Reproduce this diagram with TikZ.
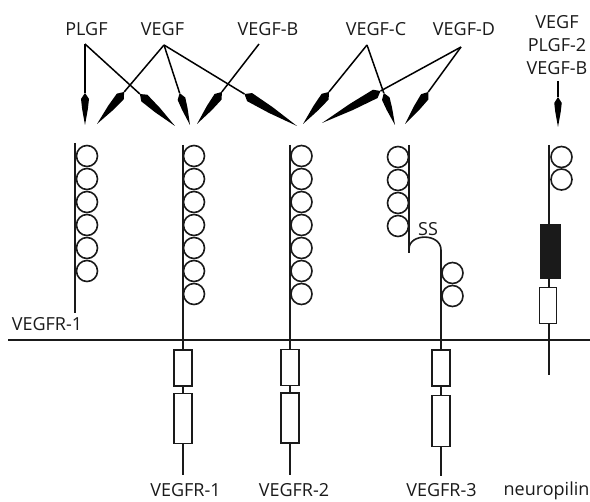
\documentclass[tikz,border=0pt]{standalone}
\usepackage{fontspec}
\setmainfont{Open Sans}
\usetikzlibrary{calc}
\definecolor{ink}{HTML}{1A1A1A}
\tikzset{
  lbl/.style={font=\fontsize{18}{23}\selectfont, inner sep=0pt, anchor=base, text=ink},
  dom/.style={circle, draw=ink, line width=1.6pt, minimum size=21pt, inner sep=0pt},
  tmbox/.style={rectangle, draw=ink, fill=white, line width=1.6pt, minimum width=18pt, inner sep=0pt},
  kinase/.style={rectangle, draw=ink, fill=ink, line width=1.6pt, inner sep=0pt},
  chain/.style={draw=ink, line width=1.6pt},
  membrane/.style={draw=ink, line width=2pt},
  lig/.style={draw=black, line width=1.5pt},
}
% ligand arrow: line from #1 to #2 with a long spear-shaped head of length #3 and width #4
\newcommand\ligarrow[4]{%
  \draw[lig] (#1) -- ($(#2)!#3!(#1)$);
  \fill[black] (#2)
    -- ($($(#2)!0.5*#3!(#1)$)!0.36*#4!90:(#2)$)
    -- ($($(#2)!#3-6pt!(#1)$)!#4/2!90:(#2)$)
    -- ($(#2)!#3!(#1)$)
    -- ($($(#2)!#3-6pt!(#1)$)!#4/2!-90:(#2)$)
    -- ($($(#2)!0.5*#3!(#1)$)!0.36*#4!-90:(#2)$)
    -- cycle;
}
\begin{document}
\begin{tikzpicture}[x=1pt, y=-1pt]
\fill[white] (0,0) rectangle (590,502);
\useasboundingbox (0,0) rectangle (590,502);

% ---- ligand labels ----
\node[lbl] (plgf)  at (86.5,36) {PLGF};
\node[lbl] (vegf)  at (162.5,36) {VEGF};
\node[lbl] (vegfb) at (268,36) {VEGF-B};
\node[lbl] (vegfc) at (376,35.5) {VEGF-C};
\node[lbl] (vegfd) at (464,35.5) {VEGF-D};
\node[lbl] (stk1) at (557,28.5) {VEGF};
\node[lbl] (stk2) at (557,51.5) {PLGF-2};
\node[lbl] (stk3) at (557,75) {VEGF-B};

% ---- ligand origins and binding sites ----
\coordinate (plgf-o)  at (85,44);
\coordinate (vegf-o)  at (164,45);
\coordinate (vegfb-o) at (259,44);
\coordinate (vegfc-o) at (367,45);
\coordinate (vegfd-o) at (461,47);
\coordinate (stk-o)   at (558,81);

\coordinate (s1a) at (85,125);
\coordinate (s1b) at (97,124);
\coordinate (r1a) at (175,126);
\coordinate (r1b) at (190,125);
\coordinate (r1c) at (197,124);
\coordinate (r2a) at (297,126);
\coordinate (r2b) at (303,124);
\coordinate (r2c) at (322,123);
\coordinate (r3a) at (395,125);
\coordinate (r3b) at (405,124);
\coordinate (npa) at (558,127);

% ---- binding arrows ----
\ligarrow{plgf-o}{s1a}{32pt}{8pt}
\ligarrow{plgf-o}{r1a}{47.5pt}{9pt}
\ligarrow{vegf-o}{s1b}{42pt}{9pt}
\ligarrow{vegf-o}{r1b}{33.6pt}{8pt}
\ligarrow{vegf-o}{r2a}{61.5pt}{9.5pt}
\ligarrow{vegfb-o}{r1c}{40.5pt}{9pt}
\ligarrow{vegfc-o}{r2b}{41.2pt}{9pt}
\ligarrow{vegfc-o}{r3a}{33.9pt}{8pt}
\ligarrow{vegfd-o}{r2c}{66.7pt}{9.5pt}
\ligarrow{vegfd-o}{r3b}{39.6pt}{9pt}
\ligarrow{stk-o}{npa}{30pt}{7.5pt}

% ---- cell membrane ----
\coordinate (mem-l) at (8,340.5);
\coordinate (mem-r) at (590,340.5);
\draw[membrane] (mem-l) -- (mem-r);
\node[lbl] (svegfr1) at (47,331) {VEGFR-1};

% ---- soluble VEGFR-1 ----
\coordinate (sv-top) at (75,143);
\coordinate (sv-bot) at (75,313);
\draw[chain] (sv-top) -- (sv-bot);
\foreach \k in {0,...,5} \node[dom] (sv-d\k) at (87,156+23*\k) {};

% ---- VEGFR-1 ----
\coordinate (v1-top) at (183,145);
\coordinate (v1-bot) at (183,475);
\draw[chain] (v1-top) -- (v1-bot);
\foreach \k in {0,...,6} \node[dom] (v1-d\k) at (194,156+23*\k) {};
\node[tmbox, minimum height=36pt] (v1-b1) at (183,368) {};
\node[tmbox, minimum height=50pt] (v1-b2) at (183,418.5) {};
\node[lbl] (v1-lbl) at (185.5,496.5) {VEGFR-1};

% ---- VEGFR-2 ----
\coordinate (v2-top) at (290,145);
\coordinate (v2-bot) at (290,475);
\draw[chain] (v2-top) -- (v2-bot);
\foreach \k in {0,...,6} \node[dom] (v2-d\k) at (301.5,156+23*\k) {};
\node[tmbox, minimum height=36pt] (v2-b1) at (290,367.5) {};
\node[tmbox, minimum height=50pt] (v2-b2) at (290,418) {};
\node[lbl] (v2-lbl) at (294,497) {VEGFR-2};

% ---- VEGFR-3 with its disulfide-linked break ----
\coordinate (v3-top) at (409,145);
\coordinate (v3-cut) at (409,253);
\coordinate (v3-sl)  at (409,249);
\coordinate (v3-sr)  at (441,250);
\coordinate (v3-bot) at (441,476);
\draw[chain] (v3-top) -- (v3-cut);
\draw[chain] (v3-sl) .. controls (409,233) and (441,233) .. (v3-sr) -- (v3-bot);
\foreach \k in {0,...,3} \node[dom] (v3-d\k) at (398,157+23*\k) {};
\node[dom] (v3-d4) at (452.5,273) {};
\node[dom] (v3-d5) at (452.5,296) {};
\node[lbl] (ss) at (428,236) {SS};
\node[tmbox, minimum height=36pt] (v3-b1) at (441,368) {};
\node[tmbox, minimum height=51pt] (v3-b2) at (441,421) {};
\node[lbl] (v3-lbl) at (441.5,496.5) {VEGFR-3};

% ---- neuropilin ----
\coordinate (np-top) at (549,145);
\coordinate (np-bot) at (549,375);
\draw[chain] (np-top) -- (np-bot);
\node[dom] (np-d0) at (561.5,157) {};
\node[dom] (np-d1) at (561.5,179.5) {};
\node[kinase, minimum width=19pt, minimum height=54pt] (np-k) at (550.5,251.5) {};
\node[tmbox, minimum width=17pt, minimum height=36pt] (np-b) at (548,305.5) {};
\node[lbl] (np-lbl) at (546.5,496) {neuropilin};
\end{tikzpicture}
\end{document}
